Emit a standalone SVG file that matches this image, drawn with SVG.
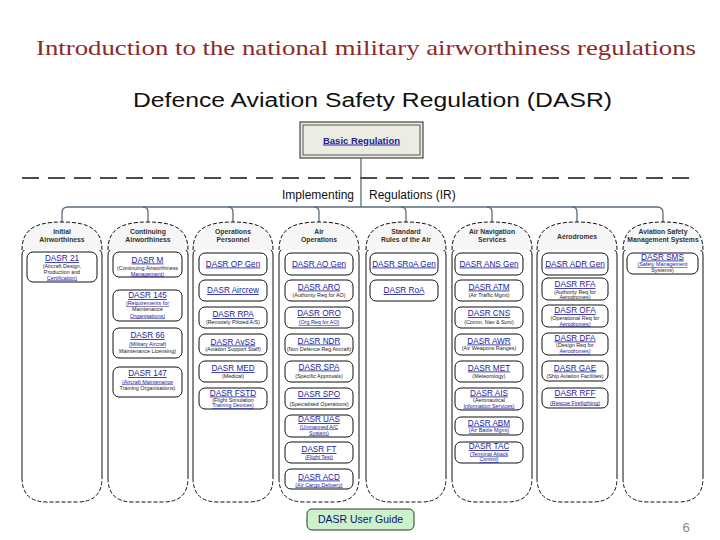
<svg xmlns="http://www.w3.org/2000/svg" width="720" height="540" viewBox="0 0 720 540">
<style>
.ttl{font-family:"Liberation Serif",serif;font-size:21px;fill:#8c2a2a}
.sub{font-family:"Liberation Sans",Arial,sans-serif;font-size:20px;fill:#111}
.ir{font-family:"Liberation Sans",Arial,sans-serif;font-size:12px;fill:#111}
.col{fill:none;stroke:#111;stroke-width:1}
.colb{fill:none;stroke:#111;stroke-width:1;stroke-dasharray:4 2}
.hd{fill:#f6f6f6;stroke:#111;stroke-width:1;stroke-dasharray:4 2}
.ht{font-family:"Liberation Sans",Arial,sans-serif;font-size:6.8px;font-weight:bold;fill:#333;text-anchor:middle}
.bx{fill:#fff;stroke:#111;stroke-width:1}
.t{font-family:"Liberation Sans",Arial,sans-serif;font-size:8.2px;fill:#1c1c9c;text-anchor:middle;text-decoration:underline}
.s{font-family:"Liberation Sans",Arial,sans-serif;font-size:5.4px;fill:#222;text-anchor:middle}
.sl{font-family:"Liberation Sans",Arial,sans-serif;font-size:5.4px;fill:#1c1c9c;text-anchor:middle;text-decoration:underline}
.conn{fill:none;stroke:#5a6e7e;stroke-width:1.3}
</style>
<text class="ttl" x="36" y="55" textLength="660" lengthAdjust="spacingAndGlyphs">Introduction to the national military airworthiness regulations</text>
<text class="sub" x="133" y="107" textLength="479" lengthAdjust="spacingAndGlyphs">Defence Aviation Safety Regulation (DASR)</text>
<line x1="22" y1="178" x2="692" y2="178" stroke="#111" stroke-width="1.4" stroke-dasharray="17 9"/>
<text class="ir" x="282" y="199">Implementing</text>
<text class="ir" x="369" y="199">Regulations (IR)</text>

<g id="connectors">
<path class="conn" d="M361,157 V207"/>
<path class="conn" d="M62,222 V213 Q62,207 68,207 H657 Q663,207 663,213 V222"/>
<path class="conn" d="M143,207 Q148,207 148,212 V222"/>
<path class="conn" d="M228,207 Q233,207 233,212 V222"/>
<path class="conn" d="M314,207 Q319,207 319,212 V222"/>
<path class="conn" d="M401,207 Q406,207 406,212 V222"/>
<path class="conn" d="M487,207 Q492,207 492,212 V222"/>
<path class="conn" d="M572,207 Q577,207 577,212 V222"/>
</g>

<g id="basic">
<rect x="300" y="122" width="123" height="36" fill="#ececE2" stroke="#222" stroke-width="1"/>
<rect x="303" y="125" width="117" height="30" fill="none" stroke="#555" stroke-width="1"/>
<text x="361.5" y="143.5" font-family="Liberation Sans,Arial,sans-serif" font-size="9.5" font-weight="bold" fill="#1c1c9c" text-anchor="middle" text-decoration="underline">Basic Regulation</text>
</g>

<g id="col1">
<path class="col" d="M22,478 V255 Q22,249 28,249 H96 Q102,249 102,255 V478"/>
<path class="colb" d="M22,478 Q22,502 47,502 H77 Q102,502 102,478"/>
<path class="hd" d="M22,250 C22,230 34,222 62,222 C90,222 102,230 102,250"/>
<text class="ht" x="62" y="234">Initial</text>
<text class="ht" x="62" y="241.5">Airworthiness</text>
</g>
<g id="col2">
<path class="col" d="M108,478 V255 Q108,249 114,249 H182 Q188,249 188,255 V478"/>
<path class="colb" d="M108,478 Q108,502 133,502 H163 Q188,502 188,478"/>
<path class="hd" d="M108,250 C108,230 120,222 148,222 C176,222 188,230 188,250"/>
<text class="ht" x="148" y="234">Continuing</text>
<text class="ht" x="148" y="241.5">Airworthiness</text>
</g>
<g id="col3">
<path class="col" d="M193,478 V255 Q193,249 199,249 H267 Q273,249 273,255 V478"/>
<path class="colb" d="M193,478 Q193,502 218,502 H248 Q273,502 273,478"/>
<path class="hd" d="M193,250 C193,230 205,222 233,222 C261,222 273,230 273,250"/>
<text class="ht" x="233" y="234">Operations</text>
<text class="ht" x="233" y="241.5">Personnel</text>
</g>
<g id="col4">
<path class="col" d="M279,478 V255 Q279,249 285,249 H353 Q359,249 359,255 V478"/>
<path class="colb" d="M279,478 Q279,502 304,502 H334 Q359,502 359,478"/>
<path class="hd" d="M279,250 C279,230 291,222 319,222 C347,222 359,230 359,250"/>
<text class="ht" x="319" y="234">Air</text>
<text class="ht" x="319" y="241.5">Operations</text>
</g>
<g id="col5">
<path class="col" d="M366,478 V255 Q366,249 372,249 H440 Q446,249 446,255 V478"/>
<path class="colb" d="M366,478 Q366,502 391,502 H421 Q446,502 446,478"/>
<path class="hd" d="M366,250 C366,230 378,222 406,222 C434,222 446,230 446,250"/>
<text class="ht" x="406" y="234">Standard</text>
<text class="ht" x="406" y="241.5">Rules of the Air</text>
</g>
<g id="col6">
<path class="col" d="M452,478 V255 Q452,249 458,249 H526 Q532,249 532,255 V478"/>
<path class="colb" d="M452,478 Q452,502 477,502 H507 Q532,502 532,478"/>
<path class="hd" d="M452,250 C452,230 464,222 492,222 C520,222 532,230 532,250"/>
<text class="ht" x="492" y="234">Air Navigation</text>
<text class="ht" x="492" y="241.5">Services</text>
</g>
<g id="col7">
<path class="col" d="M537,478 V255 Q537,249 543,249 H611 Q617,249 617,255 V478"/>
<path class="colb" d="M537,478 Q537,502 562,502 H592 Q617,502 617,478"/>
<path class="hd" d="M537,250 C537,230 549,222 577,222 C605,222 617,230 617,250"/>
<text class="ht" x="577" y="239">Aerodromes</text>
</g>
<g id="col8">
<path class="col" d="M623,478 V255 Q623,249 629,249 H697 Q703,249 703,255 V478"/>
<path class="colb" d="M623,478 Q623,502 648,502 H678 Q703,502 703,478"/>
<path class="hd" d="M623,250 C623,230 635,222 663,222 C691,222 703,230 703,250"/>
<text class="ht" x="663" y="234">Aviation Safety</text>
<text class="ht" x="663" y="241.5">Management Systems</text>
</g>

<!-- column 1 -->
<g id="dasr21"><rect class="bx" x="27" y="252" width="70" height="30" rx="6"/>
<text class="t" x="62" y="261">DASR 21</text><text class="s" x="62" y="267.5">(Aircraft Design,</text><text class="s" x="62" y="273.5">Production and</text><text class="sl" x="62" y="279.5">Certification)</text></g>

<!-- column 2 -->
<g id="dasrM"><rect class="bx" x="113" y="252" width="69" height="25" rx="6"/>
<text class="t" x="147.5" y="262.5">DASR M</text><text class="s" x="147.5" y="269.5">(Continuing Airworthiness</text><text class="sl" x="147.5" y="275.5">Management)</text></g>
<g id="dasr145"><rect class="bx" x="113" y="290" width="69" height="31" rx="6"/>
<text class="t" x="147.5" y="298">DASR 145</text><text class="sl" x="147.5" y="305">(Requirements for</text><text class="s" x="147.5" y="311">Maintenance</text><text class="sl" x="147.5" y="317.5">Organisations)</text></g>
<g id="dasr66"><rect class="bx" x="113" y="328" width="69" height="30" rx="6"/>
<text class="t" x="147.5" y="338">DASR 66</text><text class="sl" x="147.5" y="346">(Military Aircraft</text><text class="s" x="147.5" y="353">Maintenance Licensing)</text></g>
<g id="dasr147"><rect class="bx" x="113" y="367" width="69" height="30" rx="6"/>
<text class="t" x="147.5" y="376">DASR 147</text><text class="sl" x="147.5" y="383.5">(Aircraft Maintenance</text><text class="s" x="147.5" y="390">Training Organisations)</text></g>

<!-- column 3 -->
<g id="opgen"><rect class="bx" x="199" y="253" width="68" height="22" rx="6"/><text class="t" x="233" y="266.5">DASR OP Gen</text></g>
<g id="aircrew"><rect class="bx" x="199" y="280" width="68" height="21" rx="6"/><text class="t" x="233" y="293">DASR Aircrew</text></g>
<g id="rpa"><rect class="bx" x="199" y="307" width="68" height="21" rx="6"/><text class="t" x="233" y="317">DASR RPA</text><text class="s" x="233" y="324">(Remotely Piloted A/S)</text></g>
<g id="avss"><rect class="bx" x="199" y="334" width="68" height="21" rx="6"/><text class="t" x="233" y="344.5">DASR AvSS</text><text class="s" x="233" y="351">(Aviation Support Staff)</text></g>
<g id="med"><rect class="bx" x="199" y="361" width="68" height="21" rx="6"/><text class="t" x="233" y="371">DASR MED</text><text class="s" x="233" y="377.5">(Medical)</text></g>
<g id="fstd"><rect class="bx" x="199" y="388" width="68" height="21" rx="6"/><text class="t" x="233" y="395.5">DASR FSTD</text><text class="s" x="233" y="401.5">(Flight Simulation</text><text class="sl" x="233" y="407">Training Devices)</text></g>

<!-- column 4 -->
<g id="aogen"><rect class="bx" x="285" y="253" width="68" height="22" rx="6"/><text class="t" x="319" y="266.5">DASR AO Gen</text></g>
<g id="aro"><rect class="bx" x="285" y="280" width="68" height="21" rx="6"/><text class="t" x="319" y="289.5">DASR ARO</text><text class="s" x="319" y="296.5">(Authority Req for AO)</text></g>
<g id="oro"><rect class="bx" x="285" y="307" width="68" height="21" rx="6"/><text class="t" x="319" y="316">DASR ORO</text><text class="sl" x="319" y="324">(Org Req for AO)</text></g>
<g id="ndr"><rect class="bx" x="285" y="334" width="68" height="21" rx="6"/><text class="t" x="319" y="343.5">DASR NDR</text><text class="s" x="319" y="351">(Non Defence Reg Aircraft)</text></g>
<g id="spa"><rect class="bx" x="285" y="361" width="68" height="21" rx="6"/><text class="t" x="319" y="369.5">DASR SPA</text><text class="s" x="319" y="377.5">(Specific Approvals)</text></g>
<g id="spo"><rect class="bx" x="285" y="388" width="68" height="21" rx="6"/><text class="t" x="319" y="397">DASR SPO</text><text class="s" x="319" y="405.5">(Specialised Operations)</text></g>
<g id="uas"><rect class="bx" x="285" y="415" width="68" height="22" rx="6"/><text class="t" x="319" y="422">DASR UAS</text><text class="sl" x="319" y="428.5">(Unmanned A/C</text><text class="sl" x="319" y="434.5">System)</text></g>
<g id="ft"><rect class="bx" x="285" y="442" width="68" height="21" rx="6"/><text class="t" x="319" y="452">DASR FT</text><text class="sl" x="319" y="458.5">(Flight Test)</text></g>
<g id="acd"><rect class="bx" x="285" y="469" width="68" height="20" rx="6"/><text class="t" x="319" y="479.5">DASR ACD</text><text class="sl" x="319" y="486.5">(Air Cargo Delivery)</text></g>

<!-- column 5 -->
<g id="sroagen"><rect class="bx" x="370" y="253" width="68" height="22" rx="6"/><text class="t" x="404" y="266.5">DASR SRoA Gen</text></g>
<g id="roa"><rect class="bx" x="370" y="280" width="68" height="21" rx="6"/><text class="t" x="404" y="293">DASR RoA</text></g>

<!-- column 6 -->
<g id="ansgen"><rect class="bx" x="455" y="253" width="68" height="22" rx="6"/><text class="t" x="489" y="266.5">DASR ANS Gen</text></g>
<g id="atm"><rect class="bx" x="455" y="280" width="68" height="21" rx="6"/><text class="t" x="489" y="289.5">DASR ATM</text><text class="s" x="489" y="296.5">(Air Traffic Mgmt)</text></g>
<g id="cns"><rect class="bx" x="455" y="307" width="68" height="21" rx="6"/><text class="t" x="489" y="316">DASR CNS</text><text class="s" x="489" y="324">(Comm, Nav &amp; Surv)</text></g>
<g id="awr"><rect class="bx" x="455" y="334" width="68" height="21" rx="6"/><text class="t" x="489" y="343.5">DASR AWR</text><text class="s" x="489" y="350">(Air Weapons Ranges)</text></g>
<g id="met"><rect class="bx" x="455" y="361" width="68" height="21" rx="6"/><text class="t" x="489" y="370.5">DASR MET</text><text class="s" x="489" y="377.5">(Meteorology)</text></g>
<g id="ais"><rect class="bx" x="455" y="388" width="68" height="22" rx="6"/><text class="t" x="489" y="395.5">DASR AIS</text><text class="s" x="489" y="401.5">(Aeronautical</text><text class="sl" x="489" y="407.5">Information Services)</text></g>
<g id="aim"><rect class="bx" x="455" y="417" width="68" height="18" rx="6"/><text class="t" x="489" y="425.5">DASR ABM</text><text class="sl" x="489" y="432">(Air Battle Mgmt)</text></g>
<g id="tac"><rect class="bx" x="455" y="442" width="68" height="21" rx="6"/><text class="t" x="489" y="449">DASR TAC</text><text class="sl" x="489" y="455.5">(Terminal Attack</text><text class="sl" x="489" y="461">Control)</text></g>

<!-- column 7 -->
<g id="adrgen"><rect class="bx" x="542" y="253" width="66" height="22" rx="6"/><text class="t" x="575" y="266.5">DASR ADR Gen</text></g>
<g id="rfa"><rect class="bx" x="542" y="278" width="66" height="22" rx="6"/><text class="t" x="575" y="287">DASR RFA</text><text class="s" x="575" y="293.5">(Authority Req for</text><text class="s" x="575" y="299">Aerodromes)</text></g>
<g id="ofa"><rect class="bx" x="542" y="305" width="66" height="22" rx="6"/><text class="t" x="575" y="313">DASR OFA</text><text class="s" x="575" y="319.5">(Operational Req for</text><text class="sl" x="575" y="325.5">Aerodromes)</text></g>
<g id="dfa"><rect class="bx" x="542" y="333" width="66" height="22" rx="6"/><text class="t" x="575" y="340.5">DASR DFA</text><text class="s" x="575" y="347">(Design Req for</text><text class="sl" x="575" y="353">Aerodromes)</text></g>
<g id="gae"><rect class="bx" x="542" y="361" width="66" height="20" rx="6"/><text class="t" x="575" y="370.5">DASR GAE</text><text class="s" x="575" y="377.5">(Ship Aviation Facilities)</text></g>
<g id="rff"><rect class="bx" x="542" y="388" width="66" height="20" rx="6"/><text class="t" x="575" y="396">DASR RFF</text><text class="sl" x="575" y="404.5">(Rescue Firefighting)</text></g>

<!-- column 8 -->
<g id="sms"><rect class="bx" x="627" y="253" width="71" height="21" rx="6"/><text class="t" x="662.5" y="259.5">DASR SMS</text><text class="sl" x="662.5" y="266">(Safety Management</text><text class="s" x="662.5" y="271.5">Systems)</text></g>

<g id="userguide">
<rect x="307" y="509" width="107" height="21" rx="5" fill="#ccf2cc" stroke="#333" stroke-width="1"/>
<text x="360.5" y="523" font-family="Liberation Sans,Arial,sans-serif" font-size="10.5" fill="#10106a" text-anchor="middle">DASR User Guide</text>
</g>
<text x="686" y="532" font-family="Liberation Sans,Arial,sans-serif" font-size="13" fill="#888" text-anchor="middle">6</text>
</svg>
